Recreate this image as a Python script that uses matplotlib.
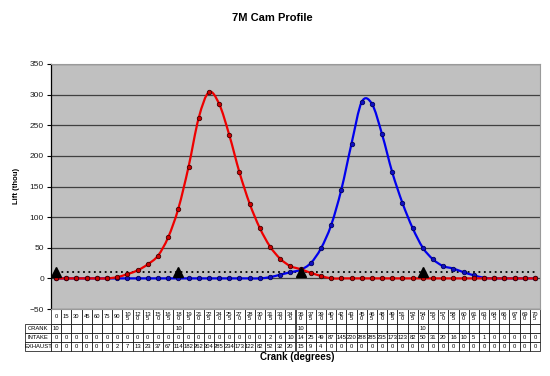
"""7M Cam Profile: intake/exhaust lift vs crank angle, Excel-style with data table."""

import matplotlib
matplotlib.use("Agg")
import matplotlib.pyplot as plt
from matplotlib.path import Path
from matplotlib.patches import PathPatch

plt.rcParams["font.family"] = ["Liberation Sans", "DejaVu Sans"]

CRANK_DEG = list(range(0, 706, 15))
CRANK_MARK = {0: 10, 180: 10, 360: 10, 540: 10}
INTAKE = [0, 0, 0, 0, 0, 0, 0, 0, 0, 0, 0, 0, 0, 0, 0, 0, 0, 0, 0, 0, 0,
          2, 6, 10, 14, 25, 49, 87, 145, 220, 288, 285, 235, 173, 123, 82,
          50, 31, 20, 16, 10, 5, 1, 0, 0, 0, 0, 0]
EXHAUST = [0, 0, 0, 0, 0, 0, 2, 7, 13, 23, 37, 67, 114, 182, 262, 304, 285,
           234, 173, 122, 82, 52, 32, 20, 15, 9, 4, 0, 0, 0, 0, 0, 0, 0, 0, 0,
           0, 0, 0, 0, 0, 0, 0, 0, 0, 0, 0, 0]
THRESHOLD = 10


def smooth_line(ax, x, y, color, lw=1.6):
    # Excel-style smoothed line: cubic Bezier through every data point
    n = len(x)
    verts = [(x[0], y[0])]
    codes = [Path.MOVETO]
    for i in range(n - 1):
        xa, ya = x[max(i - 1, 0)], y[max(i - 1, 0)]
        xb, yb = x[min(i + 2, n - 1)], y[min(i + 2, n - 1)]
        c1 = (x[i] + (x[i + 1] - xa) / 6, y[i] + (y[i + 1] - ya) / 6)
        c2 = (x[i + 1] - (xb - x[i]) / 6, y[i + 1] - (yb - y[i]) / 6)
        verts += [c1, c2, (x[i + 1], y[i + 1])]
        codes += [Path.CURVE4] * 3
    ax.add_patch(PathPatch(Path(verts, codes), fill=False, edgecolor=color,
                           lw=lw, zorder=3))


def main() -> None:
    fig = plt.figure(figsize=(5.5, 3.76), dpi=100)
    ax = fig.add_axes([51 / 550, 1 - 309 / 376, 489 / 550, 245 / 376])
    ax.set_facecolor("#c0c0c0")

    idx = list(range(len(CRANK_DEG)))
    ax.set_xlim(-0.5, len(idx) - 0.5)
    ax.set_ylim(-50, 350)
    ax.set_yticks(range(-50, 351, 50))
    ax.tick_params(axis="y", labelsize=6, length=3, width=0.8, pad=2,
                   labelcolor="#202020")
    ax.set_xticks([])
    ax.yaxis.grid(True, color="#404040", lw=0.9)
    ax.set_axisbelow(True)
    for side in ("top", "right", "bottom"):
        ax.spines[side].set_color("#9a9a9a")
        ax.spines[side].set_linewidth(0.8)
    ax.spines["left"].set_linewidth(0.9)

    ax.plot([idx[0], idx[-1]], [THRESHOLD, THRESHOLD], color="black", lw=1.3,
            ls=(0, (1.0, 2.0)), zorder=2)

    smooth_line(ax, idx, INTAKE, "#0000ee")
    ax.plot(idx, INTAKE, ls="none", marker="o", ms=3.2, mfc="#1010c0",
            mec="#000060", mew=0.6, zorder=4)
    smooth_line(ax, idx, EXHAUST, "#ee0000")
    ax.plot(idx, EXHAUST, ls="none", marker="o", ms=3.2, mfc="#d00000",
            mec="#400000", mew=0.6, zorder=5)

    tri_x = [CRANK_DEG.index(d) for d in CRANK_MARK]
    ax.plot(tri_x, list(CRANK_MARK.values()), ls="none", marker="^", ms=7,
            color="black", zorder=6)

    # data table under the plot
    header = [""] + [str(d) if d < 100 else f"{str(d)[:2]}\n{str(d)[2]}"
                     for d in CRANK_DEG]
    crank_row = ["CRANK"] + [str(CRANK_MARK[d]) if d in CRANK_MARK else ""
                             for d in CRANK_DEG]
    intake_row = ["INTAKE"] + [str(v) for v in INTAKE]
    exhaust_row = ["EXHAUST"] + [str(v) for v in EXHAUST]
    cells = [header, crank_row, intake_row, exhaust_row]

    col_w = [26] + [489 / len(CRANK_DEG)] * len(CRANK_DEG)
    left = -26 / 489
    tbl = ax.table(cellText=cells, colWidths=col_w, cellLoc="center",
                   bbox=[left, -42 / 245, 1 - left, 42 / 245])
    tbl.auto_set_font_size(False)
    tbl.set_fontsize(4.2)
    heights = [15, 9, 9, 9]
    for (r, c), cell in tbl.get_celld().items():
        cell.set_height(heights[r])
        cell.set_linewidth(0.5)
        cell.set_edgecolor("black")
        cell.PAD = 0.06
        cell.get_text().set_linespacing(0.95)
        if c == 0:
            if r == 0:
                cell.visible_edges = ""
            else:
                cell._loc = "left"

    fig.text(272 / 550, 1 - 18 / 376, "7M Cam Profile", ha="center",
             va="center", fontsize=8, fontweight="bold")
    fig.text(16 / 550, 1 - 186 / 376, "Lift (thou)", ha="center", va="center",
             rotation=90, fontsize=5.5, fontweight="bold")
    fig.text(297 / 550, 1 - 357 / 376, "Crank (degrees)", ha="center",
             va="center", fontsize=7, fontweight="bold")

    fig.savefig("out.png", dpi=100)
    plt.close(fig)


if __name__ == "__main__":
    main()
